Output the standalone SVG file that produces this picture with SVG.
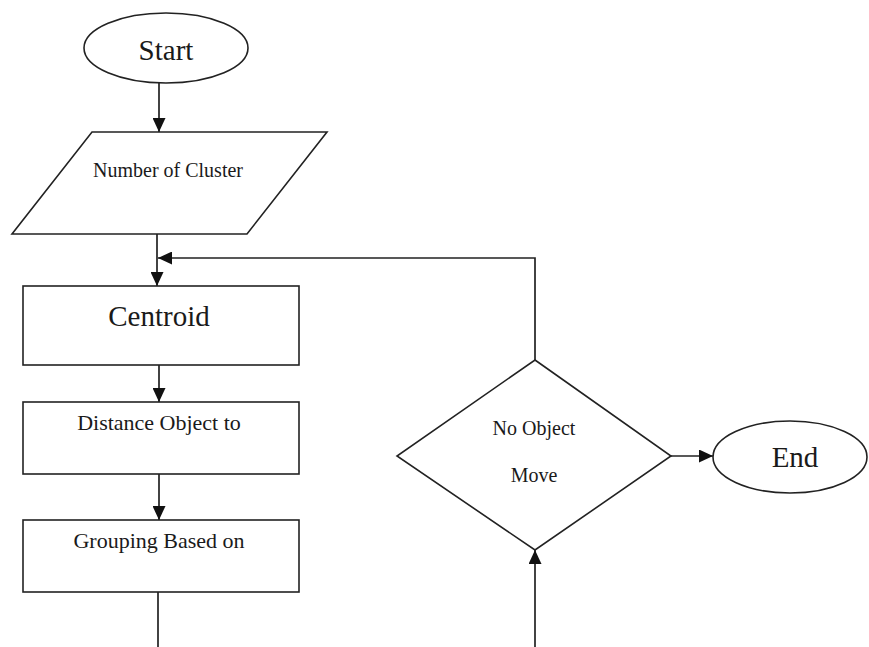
<svg xmlns="http://www.w3.org/2000/svg" width="869" height="647" viewBox="0 0 869 647">
<style>
.shape{fill:#fff;stroke:#222;stroke-width:1.6}
.conn{fill:none;stroke:#222;stroke-width:1.7}
text{font-family:"Liberation Serif","Times New Roman",serif;fill:#1a1a1a;text-anchor:middle}
.big{font-size:29px}
.mid{font-size:22px}
.sm{font-size:20px}
</style>
<defs>
<marker id="arr" viewBox="0 0 14 13" refX="14" refY="6.5" markerWidth="14" markerHeight="13" markerUnits="userSpaceOnUse" orient="auto">
<path d="M0,0 L14,6.5 L0,13 z" fill="#111"/>
</marker>
</defs>
<rect width="869" height="647" fill="#fff"/>
<g id="connectors">
<line class="conn" x1="159" y1="83" x2="159" y2="132" marker-end="url(#arr)"/>
<line class="conn" x1="157" y1="234" x2="157" y2="286" marker-end="url(#arr)"/>
<polyline class="conn" points="535,360 535,258 158,258" marker-end="url(#arr)"/>
<line class="conn" x1="159" y1="365" x2="159" y2="402" marker-end="url(#arr)"/>
<line class="conn" x1="159" y1="474" x2="159" y2="520" marker-end="url(#arr)"/>
<line class="conn" x1="158" y1="592" x2="158" y2="647"/>
<line class="conn" x1="671" y1="456" x2="713" y2="456" marker-end="url(#arr)"/>
<line class="conn" x1="535" y1="647" x2="535" y2="550" marker-end="url(#arr)"/>
</g>
<g id="start">
<ellipse class="shape" cx="166" cy="48" rx="82" ry="35"/>
<text class="big" x="166" y="60">Start</text>
</g>
<g id="input">
<polygon class="shape" points="92,132 327,132 247,234 12,234"/>
<text class="sm" x="168" y="177">Number of Cluster</text>
</g>
<g id="centroid">
<rect class="shape" x="23" y="286" width="276" height="79"/>
<text class="big" x="159" y="326">Centroid</text>
</g>
<g id="distance">
<rect class="shape" x="23" y="402" width="276" height="72"/>
<text class="mid" x="159" y="430">Distance Object to</text>
</g>
<g id="grouping">
<rect class="shape" x="23" y="520" width="276" height="72"/>
<text class="mid" x="159" y="548">Grouping Based on</text>
</g>
<g id="decision">
<polygon class="shape" points="535,360 671,456 535,550 397,456"/>
<text class="sm" x="534" y="435">No Object</text>
<text class="sm" x="534" y="482">Move</text>
</g>
<g id="end">
<ellipse class="shape" cx="790" cy="457" rx="77" ry="36"/>
<text class="big" x="795" y="467">End</text>
</g>
</svg>
